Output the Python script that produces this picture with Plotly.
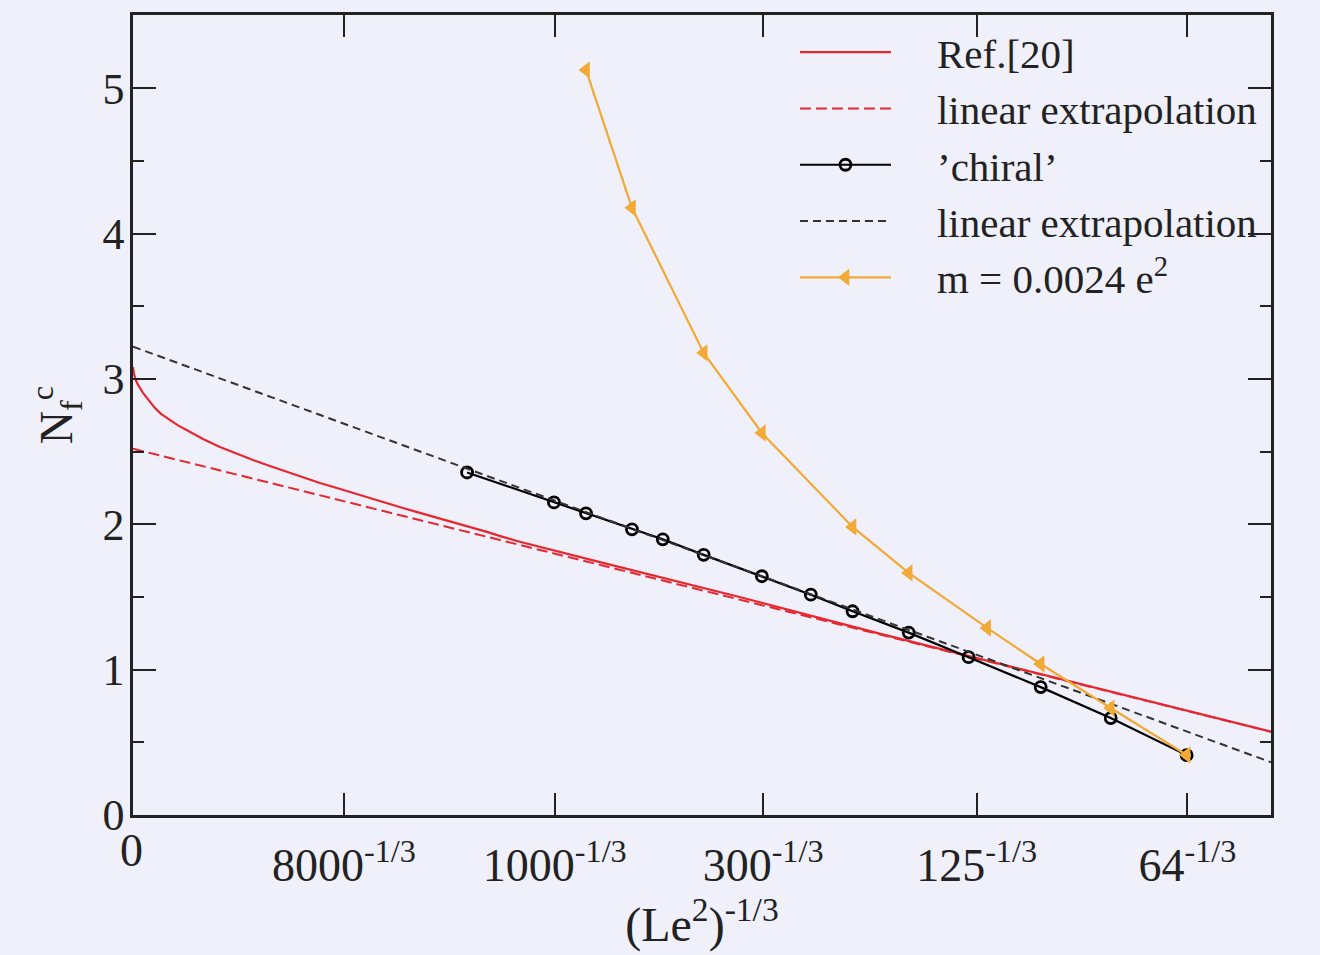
import plotly.graph_objects as go

# ---- data ----
ref20_x = [0.0, 0.00024, 0.00071, 0.00118, 0.00237, 0.00355, 0.00521, 0.00664, 0.00877,
           0.01066, 0.0128, 0.01659, 0.02062, 0.02464, 0.02844, 0.03246, 0.03649, 0.04028,
           0.04431, 0.04834, 0.05213, 0.05616, 0.06019, 0.06398, 0.06801, 0.07204, 0.07583,
           0.07986, 0.08389, 0.08768, 0.09171, 0.1100, 0.1438, 0.1770, 0.2000, 0.2244, 0.2698]
ref20_y = [3.083, 3.035, 2.990, 2.960, 2.905, 2.860, 2.800, 2.760, 2.717,
           2.681, 2.648, 2.588, 2.533, 2.485, 2.443, 2.402, 2.361, 2.321,
           2.285, 2.250, 2.216, 2.180, 2.146, 2.113, 2.079, 2.047, 2.015,
           1.982, 1.948, 1.914, 1.880, 1.745, 1.500, 1.248, 1.080, 0.900, 0.573]

ref20_lin_x = [0.0, 0.2698]
ref20_lin_y = [2.52, 0.573]

chiral_x = [0.0792, 0.0998, 0.1074, 0.1183, 0.1256, 0.1353, 0.1491, 0.1607, 0.1706,
            0.1839, 0.1981, 0.2152, 0.2318, 0.2498]
chiral_y = [2.357, 2.151, 2.076, 1.966, 1.897, 1.790, 1.643, 1.516, 1.402,
            1.255, 1.086, 0.880, 0.667, 0.412]

chiral_lin_x = [0.0, 0.2698]
chiral_lin_y = [3.223, 0.363]

mass_x = [0.1074, 0.1183, 0.1353, 0.1491, 0.1706, 0.1839, 0.2025, 0.2152, 0.2318, 0.2498]
mass_y = [5.127, 4.178, 3.180, 2.629, 1.982, 1.666, 1.287, 1.039, 0.736, 0.413]

x_tick_L = [8000, 1000, 300, 125, 64]
x_tick_vals = [0.0] + [L ** (-1.0 / 3.0) for L in x_tick_L]
x_tick_text = [""] + [f"{L}<sup>-1/3</sup>" for L in x_tick_L]
x_zero_label = "0"
y_tick_vals = [0, 1, 2, 3, 4, 5]

legend_names = ["Ref.[20]", "linear extrapolation", "’chiral’", "linear extrapolation",
                "m = 0.0024 e<sup>2</sup>"]

# ---- styling ----
BG = "#eff0fa"
RED = "#e8262e"
ORANGE = "#f3a935"
INK = "#222222"
FONT = "Liberation Serif"
PAD = "\u2003"  # em space between legend sample and its text

fig = go.Figure()

fig.add_trace(go.Scatter(
    x=ref20_x, y=ref20_y, mode="lines", name=PAD + legend_names[0],
    line=dict(color=RED, width=2.2)))
fig.add_trace(go.Scatter(
    x=ref20_lin_x, y=ref20_lin_y, mode="lines", name=PAD + legend_names[1],
    line=dict(color=RED, width=2, dash="11px,5px")))
fig.add_trace(go.Scatter(
    x=chiral_x, y=chiral_y, mode="lines+markers", name=PAD + legend_names[2],
    line=dict(color="black", width=2.2),
    marker=dict(symbol="circle-open", size=11, color="black", line=dict(width=2.8))))
fig.add_trace(go.Scatter(
    x=chiral_lin_x, y=chiral_lin_y, mode="lines", name=PAD + legend_names[3],
    line=dict(color="#333333", width=2, dash="8px,5px")))
fig.add_trace(go.Scatter(
    x=mass_x, y=mass_y, mode="lines+markers", name=PAD + legend_names[4],
    line=dict(color=ORANGE, width=2.2),
    marker=dict(symbol="triangle-left", size=15, color=ORANGE)))

axis_common = dict(
    showgrid=False, zeroline=False, showline=True, linecolor=INK, linewidth=2.5,
    mirror="ticks", ticks="inside", tickcolor=INK, tickwidth=2,
)

fig.update_xaxes(
    **axis_common, range=[0, 0.2698], tickvals=x_tick_vals, ticktext=x_tick_text,
    ticklen=22, ticklabelstandoff=8,
    tickfont=dict(family=FONT, size=46, color=INK),
    title=dict(text="(Le<sup>2</sup>)<sup>-1/3</sup>", font=dict(family=FONT, size=48, color=INK),
               standoff=18),
)
fig.update_yaxes(
    **axis_common, range=[0, 5.505], tickvals=y_tick_vals, ticklen=23, ticklabelstandoff=-3,
    tickfont=dict(family=FONT, size=44, color=INK),
    minor=dict(dtick=0.5, ticks="inside", ticklen=11, tickwidth=2, tickcolor=INK),
    title=dict(text="N<sub>f</sub><sup>c</sup>", font=dict(family=FONT, size=46, color=INK),
               standoff=16),
)

# x-axis "0" label sits higher than the other (superscripted) labels in the reference
fig.add_annotation(
    x=x_tick_vals[0], y=0, xref="x", yref="y", text=x_zero_label, showarrow=False,
    xanchor="center", yanchor="top", yshift=-8, xshift=-2,
    font=dict(family=FONT, size=46, color=INK),
)

fig.update_layout(
    width=1320, height=955,
    margin=dict(l=133, r=49, t=15, b=140, autoexpand=False),
    paper_bgcolor=BG, plot_bgcolor=BG,
    showlegend=True,
    legend=dict(x=0.5817, y=0.995, xanchor="left", yanchor="top", bgcolor="rgba(0,0,0,0)",
                font=dict(family=FONT, size=41, color=INK), itemwidth=91,
                tracegroupgap=0),
    font=dict(family=FONT, color=INK),
)

fig.write_html(
    "out.html",
    config={"displayModeBar": False},
    post_script="document.body.style.margin='0';document.body.style.background='" + BG + "';",
)
